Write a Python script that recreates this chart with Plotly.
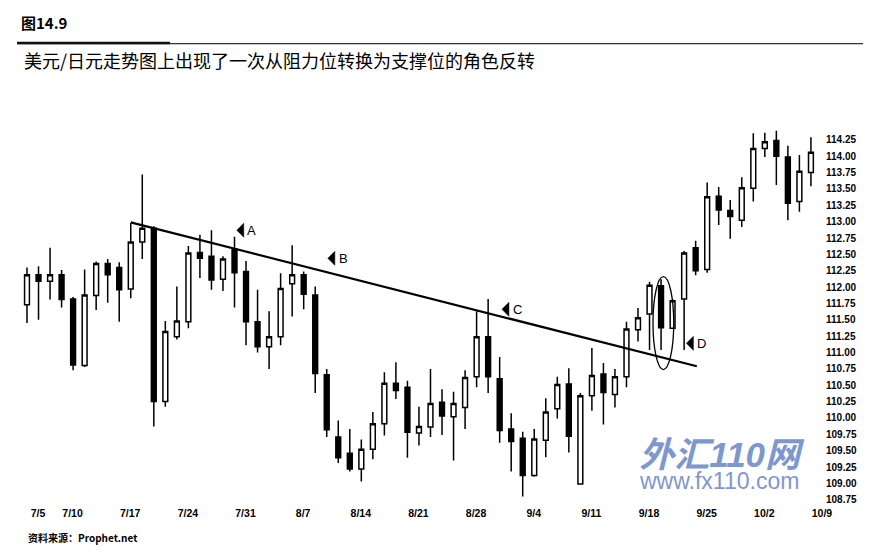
import plotly.graph_objects as go

# ---------------- data ----------------
dates = ["7/5", "7/6", "7/7", "7/10", "7/11", "7/12", "7/13", "7/14", "7/17", "7/18",
         "7/19", "7/20", "7/21", "7/24", "7/25", "7/26", "7/27", "7/28", "7/31",
         "8/1", "8/2", "8/3", "8/4", "8/7", "8/8", "8/9", "8/10", "8/11", "8/14",
         "8/15", "8/16", "8/17", "8/18", "8/21", "8/22", "8/23", "8/24", "8/25",
         "8/28", "8/29", "8/30", "8/31", "9/1", "9/4", "9/5", "9/6", "9/7", "9/8",
         "9/11", "9/12", "9/13", "9/14", "9/15", "9/18", "9/19", "9/20", "9/21",
         "9/22", "9/25", "9/26", "9/27", "9/28", "9/29", "10/2", "10/3", "10/4",
         "10/5", "10/6", "10/9"]

open_ = [111.73, 112.19, 112.09, 112.19, 111.82, 110.80, 111.87, 112.36, 112.30, 111.97,
         112.69, 112.90, 110.25, 111.24, 111.47, 112.53, 112.47, 112.12, 112.58, 112.24,
         111.47, 111.09, 111.24, 112.05, 112.19, 111.88, 110.66, 109.71, 109.46, 109.22,
         109.52, 109.91, 110.53, 110.47, 109.77, 109.86, 110.24, 110.02, 110.16, 110.63,
         111.24, 110.60, 109.83, 109.69, 109.12, 109.66, 110.14, 110.52, 108.99, 110.34,
         110.67, 110.36, 110.63, 111.35, 111.59, 112.02, 111.37, 111.82, 112.60, 112.27,
         113.39, 113.17, 113.02, 113.51, 114.12, 114.24, 113.99, 113.31, 113.75]
high = [112.30, 112.32, 112.60, 112.26, 111.85, 112.27, 112.39, 112.43, 112.38, 112.98,
        113.72, 112.93, 111.48, 112.01, 112.63, 112.80, 112.87, 112.47, 112.77, 112.40,
        111.96, 111.63, 112.21, 112.64, 112.24, 112.01, 110.75, 109.96, 109.83, 109.67,
        110.09, 110.70, 110.85, 110.57, 110.17, 110.75, 110.44, 110.40, 110.73, 111.63,
        111.82, 110.93, 110.07, 109.79, 109.83, 110.30, 110.63, 110.76, 110.38, 111.07,
        110.84, 110.75, 111.47, 111.68, 112.08, 112.12, 111.82, 112.55, 112.71, 113.60,
        113.53, 113.33, 113.68, 114.35, 114.36, 114.39, 114.16, 114.02, 114.29]
low = [111.45, 111.50, 111.81, 111.69, 110.73, 110.78, 111.65, 111.76, 111.47, 111.83,
       112.43, 109.87, 110.17, 111.20, 111.37, 112.14, 111.96, 111.94, 111.69, 111.11,
       111.00, 110.75, 111.11, 111.55, 111.66, 110.38, 109.71, 109.31, 109.18, 109.03,
       109.37, 109.73, 110.29, 109.39, 109.58, 109.71, 109.74, 109.35, 109.83, 110.47,
       110.38, 109.62, 109.18, 108.80, 109.10, 109.40, 109.99, 109.47, 108.98, 110.11,
       109.90, 110.16, 110.47, 111.17, 111.04, 111.04, 111.36, 111.04, 112.18, 112.22,
       112.95, 112.74, 112.92, 113.31, 113.99, 113.56, 113.02, 113.15, 113.54]
close = [112.19, 112.09, 112.19, 111.81, 110.81, 111.88, 112.36, 112.19, 111.96, 112.69,
         112.90, 110.25, 111.32, 111.48, 112.52, 112.44, 112.11, 112.43, 112.22, 111.47,
         111.09, 111.24, 111.98, 112.19, 111.89, 110.68, 109.82, 109.39, 109.22, 109.52,
         109.91, 110.53, 110.42, 109.78, 109.87, 110.22, 110.03, 110.22, 110.62, 111.24,
         110.63, 109.81, 109.64, 109.12, 109.68, 110.09, 110.51, 109.72, 110.34, 110.65,
         110.39, 110.63, 111.36, 111.53, 112.03, 111.38, 111.79, 112.52, 112.25, 113.38,
         113.18, 113.08, 113.52, 114.12, 114.22, 114.00, 113.28, 113.77, 114.06]

tick_dates = ["7/5", "7/10", "7/17", "7/24", "7/31", "8/7", "8/14", "8/21", "8/28",
              "9/4", "9/11", "9/18", "9/25", "10/2", "10/9"]
y_ticks = [108.75, 109.00, 109.25, 109.50, 109.75, 110.00, 110.25, 110.50, 110.75,
           111.00, 111.25, 111.50, 111.75, 112.00, 112.25, 112.50, 112.75, 113.00,
           113.25, 113.50, 113.75, 114.00, 114.25]

# trend line (resistance -> support), category index / price
trend_x = [9.0, 58.1]
trend_y = [112.99, 110.79]
# markers A-D
mark_labels = ["A", "B", "C", "D"]
mark_x = [18.5, 26.4, 41.5, 57.5]
mark_y = [112.87, 112.44, 111.66, 111.14]
# ellipse around candles
ell_x = [54.3, 56.1]
ell_y = [110.74, 112.16]

# ---------------- layout geometry ----------------
# the page body has an 8px margin, so the figure is drawn 8px smaller and
# all target page positions are converted by subtracting that offset
OFF = 8
W, H = 874 - OFF, 558 - OFF
L = 15 - OFF
T = 117 - OFF
R = W - (822 - OFF)
B = H - (503.3 - OFF)
pw, ph = W - L - R, H - T - B


def fx(px):  # page px -> paper x
    return (px - OFF - L) / pw


def fy(py):  # page py -> paper y
    return (H - B - (py - OFF)) / ph


LAT = "Liberation Sans, Arial, sans-serif"
CJK = "Noto Sans CJK SC, sans-serif"

fig = go.Figure()
fig.add_trace(go.Candlestick(
    x=dates, open=open_, high=high, low=low, close=close,
    increasing=dict(line=dict(color="black", width=1.5), fillcolor="white"),
    decreasing=dict(line=dict(color="black", width=1.5), fillcolor="black"),
    whiskerwidth=0, showlegend=False, hoverinfo="skip",
))

shapes = []
shapes.append(dict(type="line", xref="x", yref="y", x0=trend_x[0], y0=trend_y[0],
                   x1=trend_x[1], y1=trend_y[1], line=dict(color="black", width=2.2)))
shapes.append(dict(type="circle", xref="x", yref="y", x0=ell_x[0], x1=ell_x[1],
                   y0=ell_y[0], y1=ell_y[1], line=dict(color="black", width=1.3)))
for mx, my in zip(mark_x, mark_y):
    shapes.append(dict(type="path", xref="x", yref="y", xsizemode="pixel", ysizemode="pixel",
                       xanchor=mx, yanchor=my, path="M 3.5 -7 L -3.5 0 L 3.5 7 Z",
                       fillcolor="black", line=dict(color="black", width=0.5)))
# header rules
shapes.append(dict(type="line", xref="paper", yref="paper", x0=fx(17), x1=fx(863),
                   y0=fy(43.5), y1=fy(43.5), line=dict(color="#333", width=1.2)))
shapes.append(dict(type="line", xref="paper", yref="paper", x0=fx(17), x1=fx(170),
                   y0=fy(43), y1=fy(43), line=dict(color="#111", width=2.5)))

annotations = []
for lab, mx, my in zip(mark_labels, mark_x, mark_y):
    annotations.append(dict(x=mx + 0.45, y=my, xref="x", yref="y", text=lab, showarrow=False,
                            xanchor="left", yanchor="middle",
                            font=dict(family=LAT, size=13, color="black")))

annotations.append(dict(x=fx(19), y=fy(22), xref="paper", yref="paper", text="<b>图14.9</b>",
                        showarrow=False, xanchor="left", yanchor="middle",
                        font=dict(family=CJK, size=15, color="black")))
annotations.append(dict(x=fx(22), y=fy(60), xref="paper", yref="paper",
                        text="美元/日元走势图上出现了一次从阻力位转换为支撑位的角色反转",
                        showarrow=False, xanchor="left", yanchor="middle",
                        font=dict(family=CJK, size=18, color="black")))
annotations.append(dict(x=fx(26), y=fy(538), xref="paper", yref="paper",
                        text="<b>资料来源：Prophet.net</b>",
                        showarrow=False, xanchor="left", yanchor="middle",
                        font=dict(family=CJK, size=10, color="black")))
# watermark (one two-line text block)
annotations.append(dict(x=fx(722), y=fy(465), xref="paper", yref="paper",
                        text=("<b><i><span style='font-size:35px'>外汇110网</span></i></b><br>"
                              "<span style='font-size:23px'>www.fx110.com</span>"),
                        showarrow=False, xanchor="center", yanchor="middle", align="center",
                        font=dict(family="Liberation Sans, Noto Sans CJK SC, sans-serif",
                                  size=17, color="#7f97cf")))

fig.update_layout(
    width=W, height=H,
    margin=dict(l=L, r=R, t=T, b=B),
    paper_bgcolor="white", plot_bgcolor="white",
    boxgap=0.4,
    shapes=shapes, annotations=annotations,
    xaxis=dict(type="category", range=[-1.04, 68.96], rangeslider=dict(visible=False),
               showgrid=False, zeroline=False, showline=False, ticks="",
               tickmode="array", tickvals=tick_dates, ticktext=tick_dates,
               ticklabelshift=11, ticklabelstandoff=2,
               tickfont=dict(family=LAT, size=10.5, color="black", weight="bold")),
    yaxis=dict(side="right", range=[108.70, 114.60], showgrid=False, zeroline=False,
               showline=False, ticks="", tickmode="array", tickvals=y_ticks,
               ticktext=["%.2f" % v for v in y_ticks], ticklabelstandoff=3,
               tickfont=dict(family=LAT, size=10, color="black", weight="bold")),
)

fig.write_html("out.html")
